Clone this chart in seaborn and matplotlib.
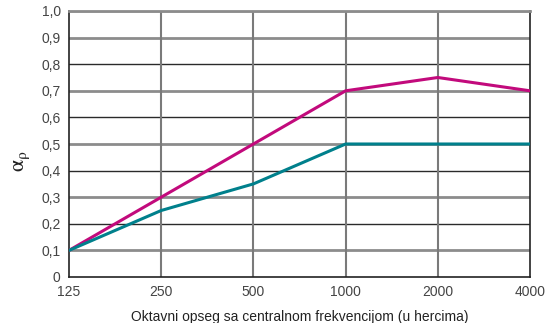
import matplotlib
matplotlib.use("Agg")
import matplotlib.pyplot as plt
from matplotlib import font_manager
import seaborn as sns
import numpy as np

# Octave-band absorption coefficients
bands = ["125", "250", "500", "1000", "2000", "4000"]
absorption_high = [0.10, 0.30, 0.50, 0.70, 0.75, 0.70]
absorption_low = [0.10, 0.25, 0.35, 0.50, 0.50, 0.50]
y_ticks = [0.0, 0.1, 0.2, 0.3, 0.4, 0.5, 0.6, 0.7, 0.8, 0.9, 1.0]
y_tick_labels = ["0", "0,1", "0,2", "0,3", "0,4", "0,5", "0,6", "0,7", "0,8", "0,9", "1,0"]
x_label = "Oktavni opseg sa centralnom frekvencijom (u hercima)"

sns.set_theme(style="white")
names = {f.name for f in font_manager.fontManager.ttflist}
family = "Liberation Sans Narrow" if "Liberation Sans Narrow" in names else "Liberation Sans"
plt.rcParams["font.family"] = [family, "DejaVu Sans"]
plt.rcParams["mathtext.fontset"] = "stix"

fig = plt.figure(figsize=(5.47, 3.23), dpi=100)
ax = fig.add_axes([69 / 547, 1 - 277 / 323, 461 / 547, 266 / 323])

pos = np.arange(len(bands))

# horizontal grid: odd tenths light and wide, even tenths dark and thin
for i, v in enumerate(y_ticks):
    if i == 0:
        continue
    if i % 2 == 1:
        ax.axhline(v, color="#8c8c8c", lw=2.0, zorder=1)
    else:
        ax.axhline(v, color="#2a2a2a", lw=1.0, zorder=1)
for p in pos[1:-1]:
    ax.axvline(p, color="#7a7a7a", lw=1.5, zorder=1)

sns.lineplot(x=pos, y=absorption_high, ax=ax, color="#c20a7c", lw=2.2, zorder=3)
sns.lineplot(x=pos, y=absorption_low, ax=ax, color="#00808c", lw=2.2, zorder=3)

ax.set_xlim(pos[0], pos[-1])
ax.set_ylim(0, 1.0)
ax.set_xticks(pos)
ax.set_xticklabels(bands)
ax.set_yticks(y_ticks)
ax.set_yticklabels(y_tick_labels)
ax.tick_params(axis="both", length=0, labelsize=10, colors="#444444")
ax.tick_params(axis="x", pad=6)
ax.tick_params(axis="y", pad=6)

for side in ["left", "bottom", "right"]:
    ax.spines[side].set_color("#222222")
    ax.spines[side].set_linewidth(1.2)
ax.spines["top"].set_color("#8c8c8c")
ax.spines["top"].set_linewidth(2.0)

ax.set_xlabel(x_label, fontsize=10, color="#222222", labelpad=8)
fig.text(21 / 547, 1 - 161 / 323, r"$\mathrm{\alpha}_{\mathrm{\rho}}$", rotation=90,
         fontsize=16, color="#222222", ha="center", va="center")

fig.savefig("out.png", dpi=100)
